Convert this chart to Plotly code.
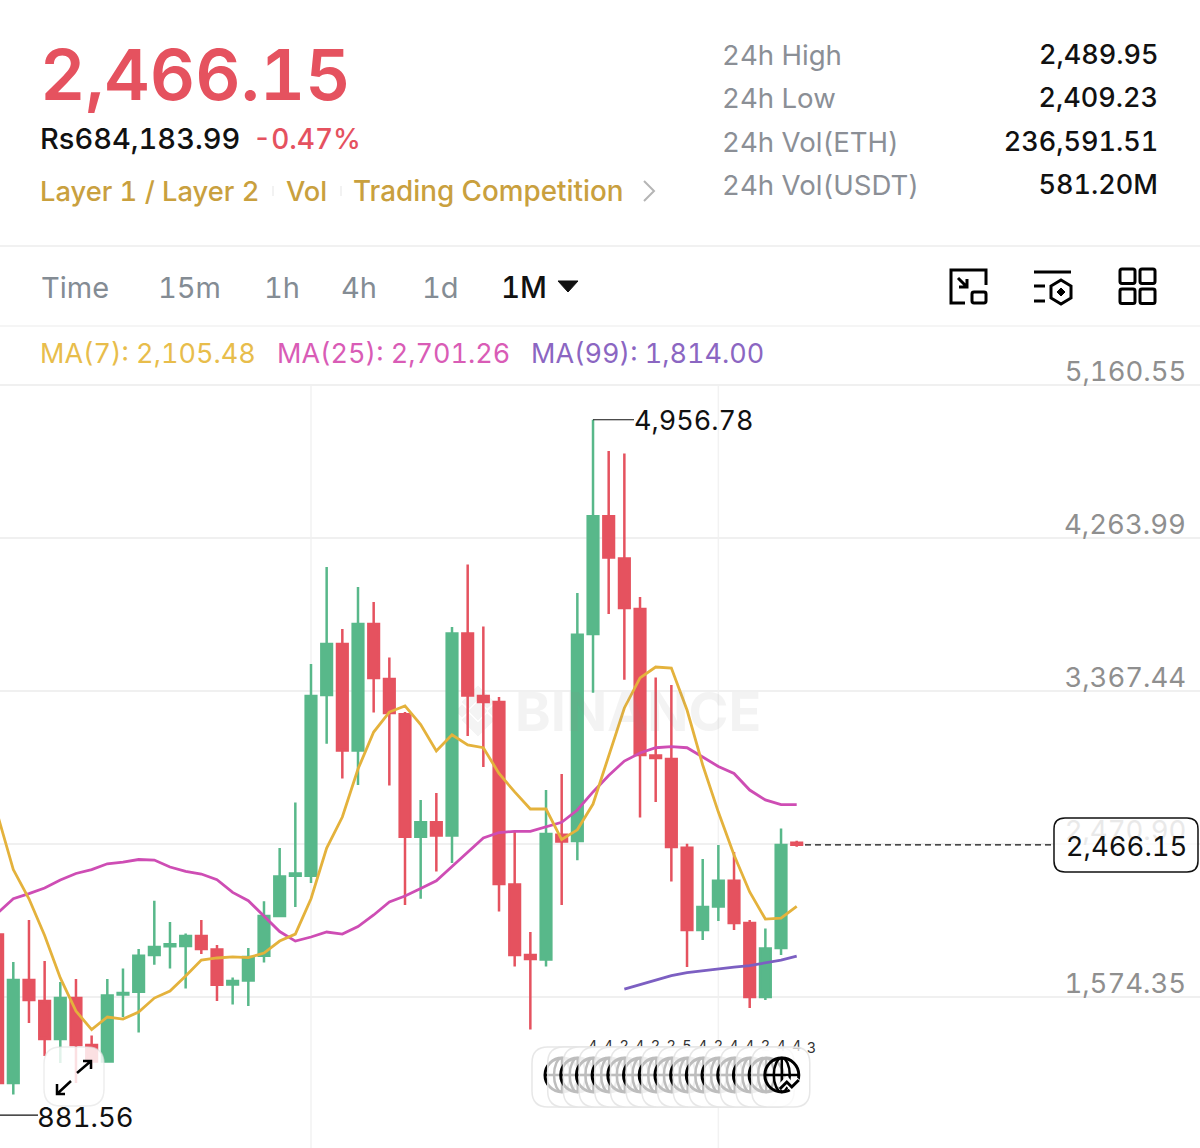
import re
import plotly.graph_objects as go

# ---------- data ----------
candle_index = list(range(52))
opens = [1940,1070,1674,1551,1328,1568,1293,1196,1589,1605,1820,1871,1873,1932,1853,1648,1671,1816,2049,2285,2285,3344,3643,3019,3760,3438,
         3231,2514,2598,2521,3704,3338,3303,2234,1820,1794,2525,2488,3701,4391,4144,3848,2989,2969,2449,1967,2105,2255,2008,1574,1861,2478]
highs = [2050,1779,2026,1785,1662,1680,1349,1680,1741,1856,2139,2014,1946,2026,1879,1689,1861,2135,2447,2714,3526,4094,3731,3977,3889,3564,
         3244,2729,2770,3742,4109,3745,3332,2541,1955,2787,2881,3942,4956.78,4774,4759,3918,3446,3403,2473,2383,2465,2424,2026,1975,2561,2489.95]
lows = [881.56,1003,1422,1229,1188,1070,1158,1194,1457,1366,1764,1741,1624,1826,1551,1530,1522,1776,2043,2102,2242,3059,2855,2817,3241,2814,
        2113,2150,2310,2360,3104,2922,2076,1753,1384,1753,2113,2375,3357,3819,3434,2626,2717,2251,1750,1908,2020,1967,1510,1557,1820,2455]
closes = [1070,1674,1557,1328,1568,1293,1196,1583,1598,1816,1867,1883,1932,1856,1646,1668,1809,2049,2280,2298,3338,3643,3019,3760,3444,3239,
          2514,2598,2521,3704,3341,3303,2236,1820,1797,2529,2485,3697,4391,4149,3854,2992,2975,2453,1967,2102,2255,2008,1574,1858,2465,2466.15]
ma7 = [2641,2321,2150,1935,1686,1492,1383,1457,1445,1486,1568,1609,1697,1791,1803,1809,1805,1832,1902,1943,2150,2447,2629,2910,3127,3244,
       3280,3171,3016,3111,3051,3035,2884,2776,2676,2676,2497,2554,2705,2992,3268,3444,3508,3502,3256,2934,2658,2406,2190,2031,2037,2105.48]
ma25 = [2067,2150,2180,2213,2260,2298,2321,2355,2365,2380,2377,2336,2310,2295,2262,2187,2139,2049,1958,1902,1926,1955,1943,1987,2055,2131,
        2166,2210,2255,2339,2425,2506,2538,2545,2545,2571,2598,2670,2776,2872,2957,3004,3035,3042,3035,2981,2925,2884,2787,2729,2702,2701.26]
ma99_index = list(range(40, 52))
ma99 = [1621,1648,1676,1700,1717,1729,1738,1750,1758,1774,1791,1814.00]
price_ticks = [5160.55, 4263.99, 3367.44, 2470.90, 1574.35, 677.79]
price_tick_labels = ["5,160.55", "4,263.99", "3,367.44", "2,470.90", "1,574.35", "677.79"]
grid_x = [20, 46]
last_price = 2466.15
high_price = 4956.78
low_price = 881.56
stats = [("24h High", "2,489.95"), ("24h Low", "2,409.23"), ("24h Vol(ETH)", "236,591.51"), ("24h Vol(USDT)", "581.20M")]
intervals = ["Time", "15m", "1h", "4h", "1d"]
stack_digits = list("44242254244244")

# ---------- canvas ----------
W, H = 1200, 1148
FONT = "Inter"
GREEN, RED = "#58B88A", "#E5525F"
XR = [0.151, 76.74]
YR = [689.5, 7416.57]
px = lambda x: x / W
py = lambda y: 1 - y / H
dx = lambda x: XR[0] + x / W * (XR[1] - XR[0])
dy = lambda y: YR[1] - y / H * (YR[1] - YR[0])

def path_px(s):
    toks = re.findall(r"[A-Za-z]|-?\d+\.?\d*", s)
    out, n = [], 0
    for t in toks:
        if t.isalpha():
            out.append(t)
        else:
            v = float(t)
            out.append(f"{px(v):.5f}" if n % 2 == 0 else f"{py(v):.5f}")
            n += 1
    return " ".join(out)

shapes, annos = [], []

def P(d, color="#000", w=3, fill=None, layer="above"):
    shapes.append(dict(type="path", xref="paper", yref="paper", path=path_px(d), layer=layer,
                       line=dict(color=color, width=w), fillcolor=fill or "rgba(0,0,0,0)"))

def L(x0, y0, x1, y1, color="#000", w=1, layer="above", dash=None):
    shapes.append(dict(type="line", xref="paper", yref="paper", x0=px(x0), x1=px(x1), y0=py(y0), y1=py(y1),
                       layer=layer, line=dict(color=color, width=w, dash=dash)))

def C(cx, cy, rx, ry, color="#000", w=3):
    shapes.append(dict(type="circle", xref="paper", yref="paper", x0=px(cx-rx), x1=px(cx+rx), y0=py(cy+ry), y1=py(cy-ry),
                       line=dict(color=color, width=w), layer="above"))

def RR(x0, y0, x1, y1, r, color="#000", w=1.5, fill=None):
    P(f"M {x0+r} {y0} L {x1-r} {y0} Q {x1} {y0} {x1} {y0+r} L {x1} {y1-r} Q {x1} {y1} {x1-r} {y1} "
      f"L {x0+r} {y1} Q {x0} {y1} {x0} {y1-r} L {x0} {y0+r} Q {x0} {y0} {x0+r} {y0} Z", color, w, fill)

def T(x, y, text, size, color="#000", anchor="left", weight=400, font=FONT):
    annos.append(dict(xref="paper", yref="paper", x=px(x), y=py(y), text=text, showarrow=False, xanchor=anchor,
                      yanchor="middle", borderpad=0, align=anchor,
                      font=dict(family=font, size=size, color=color, weight=weight)))

# ---------- header ----------
T(39, 74, "2,466.15", 70.3, RED, weight=600)
T(39, 139, "Rs684,183.99", 29, "#111", weight=500)
T(252, 139, "-0.47%", 28, RED, weight=500)
GOLD = "#C9A03E"
T(39, 191, "Layer 1 / Layer 2", 27.3, GOLD, weight=500)
T(285, 191, "Vol", 27.3, GOLD, weight=500)
T(352, 191, "Trading Competition", 27.8, GOLD, weight=500)
L(273, 186, 273, 196, "#eeeeee", 1.5)
L(341, 186, 341, 196, "#eeeeee", 1.5)
P("M 644 181 L 654 191 L 644 201", "#b5b5b5", 2)
for (k, v), y in zip(stats, [55, 98, 142, 185]):
    T(721, y, k, 27.6, "#8b8f96")
    T(1159, y, v, 27, "#111", anchor="right", weight=500)
L(0, 246, W, 246, "#ececec", 1.5)
L(0, 326, W, 326, "#f2f2f2", 1.5)

# ---------- toolbar ----------
for s, x in zip(intervals, [40, 157, 263, 340, 421]):
    T(x, 287, s, 29, "#848c94")
T(500, 287, "1M", 29.5, "#111", weight=500)
P("M 558 281 L 578 281 L 568 292 Z", "#111", 1, "#111")
P("M 965 303 L 951 303 L 951 270 L 986 270 L 986 285", w=3)
RR(972, 292, 986, 303, 2, w=3)
P("M 958 278 L 967 287 M 967 279 L 967 287 L 959 287", w=3)
L(1034, 272, 1071, 272, w=3)
L(1034, 286, 1045, 286, w=3)
L(1034, 301, 1045, 301, w=3)
P("M 1061 280 L 1071 286 L 1071 298 L 1061 304 L 1051 298 L 1051 286 Z", w=3)
P("M 1061 288 L 1065 292 L 1061 296 L 1057 292 Z", "#000", 1, "#000")
for x0 in (1120, 1140):
    for y0 in (269, 289):
        RR(x0, y0, x0 + 15, y0 + 14.5, 2, w=3)

# ---------- MA legend ----------
T(39, 353, "MA(7): 2,105.48", 27, "#E8BD4B")
T(276, 353, "MA(25): 2,701.26", 27, "#D95CB6")
T(530, 353, "MA(99): 1,814.00", 27, "#8B66C2")

# ---------- axis labels ----------
for v, s in zip(price_ticks, price_tick_labels):
    col = "#e9e9e9" if s == "2,470.90" else "#8f8f8f"
    annos.append(dict(xref="paper", yref="y", x=px(1187), y=v, text=s, showarrow=False, xanchor="right", yanchor="bottom",
                      align="right", borderpad=0, yshift=-4, font=dict(family=FONT, size=27.5, color=col)))

# ---------- vertical grid (stops at the top price line) ----------
for g in grid_x:
    shapes.append(dict(type="line", xref="x", yref="y", x0=g, x1=g, y0=YR[0], y1=price_ticks[0], layer="below",
                       line=dict(color="#f2f2f2", width=1.5)))

# ---------- watermark ----------
WM = "#f4f4f4"
for cx, cy, r in [(478, 711, 9), (462, 711, 6), (494, 711, 6)]:
    P(f"M {cx} {cy-r} L {cx+r} {cy} L {cx} {cy+r} L {cx-r} {cy} Z", WM, 1, WM, "below")
P("M 478 686 L 494 702 L 487 708 L 478 699 L 469 708 L 462 702 Z", WM, 1, WM, "below")
P("M 478 736 L 494 720 L 487 714 L 478 723 L 469 714 L 462 720 Z", WM, 1, WM, "below")
T(514, 711, "BINANCE", 54, "rgba(140,140,140,0.10)", weight=700)

# ---------- price markers ----------
shapes.append(dict(type="line", xref="paper", yref="y", x0=px(593), x1=px(634), y0=high_price, y1=high_price,
                   line=dict(color="#111", width=1.2), layer="above"))
T(633, 420, "4,956.78", 27, "#111")
shapes.append(dict(type="line", xref="paper", yref="y", x0=0, x1=px(38), y0=low_price, y1=low_price,
                   line=dict(color="#111", width=1.2), layer="above"))
T(36, 1117, "881.56", 27.5, "#111")
shapes.append(dict(type="line", xref="paper", yref="y", x0=px(805), x1=px(1054), y0=last_price, y1=last_price,
                   line=dict(color="#111", width=1.3, dash="6px,4px"), layer="above"))
RR(1054, 818, 1198, 872, 11, "#111", 1.5, "rgba(255,255,255,0.72)")
T(1126, 846, "2,466.15", 27.5, "#111", anchor="center")

# ---------- expand button ----------
RR(44, 1047, 104, 1106, 17, "rgba(225,225,225,0.6)", 1.5, "rgba(255,255,255,0.82)")
P("M 77 1073 L 91 1061 M 83 1061 L 91 1061 L 91 1069", "#000", 2.5)
P("M 71 1081 L 57 1094 M 65 1094 L 57 1094 L 57 1084", "#000", 2.5)

# ---------- stacked globe buttons ----------
n = 15
for k in range(n):
    x0 = 532 + 15.7 * k
    RR(x0, 1047, x0 + 58, 1107, 16, "rgba(228,228,228,0.9)", 1.5, "rgba(255,255,255,0.74)")
    cx, cy = x0 + 30, 1075
    C(cx, cy, 17, 17, "#000", 3)
    C(cx, cy, 8, 17, "#000", 2.5)
    L(cx - 17, cy, cx + 17, cy, "#000", 2.5)
    L(cx, cy - 17, cx, cy + 17, "#000", 2.5)
    if k == n - 1:
        P(f"M {cx-2} {cy+13} L {cx+5} {cy+6} L {cx+10} {cy+12} L {cx+17} {cy+4}", "#fff", 7)
        P(f"M {cx-2} {cy+14} L {cx+5} {cy+7} L {cx+10} {cy+12} L {cx+17} {cy+5}", "#000", 3)
T(811, 1047, "3", 14.5, "#333", anchor="center")

# ---------- figure ----------
fig = go.Figure()
fig.add_trace(go.Candlestick(
    x=candle_index, open=opens, high=highs, low=lows, close=closes,
    increasing=dict(line=dict(color=GREEN, width=2.5), fillcolor=GREEN),
    decreasing=dict(line=dict(color=RED, width=2.5), fillcolor=RED),
    whiskerwidth=0, hoverinfo="skip"))
fig.add_trace(go.Scatter(x=candle_index, y=ma25, mode="lines", line=dict(color="#CE4DB4", width=2.8), hoverinfo="skip"))
fig.add_trace(go.Scatter(x=candle_index, y=ma7, mode="lines", line=dict(color="#E4B23C", width=2.8), hoverinfo="skip"))
fig.add_trace(go.Scatter(x=ma99_index, y=ma99, mode="lines", line=dict(color="#7C5FC2", width=2.8), hoverinfo="skip"))
# digit tags that sit behind the stacked buttons
fig.add_trace(go.Scatter(
    x=[dx(592.7 + 15.7 * i) for i in range(len(stack_digits))], y=[dy(1047)] * len(stack_digits),
    mode="text", text=stack_digits, textposition="middle center",
    textfont=dict(family=FONT, size=14.5, color="#333"), hoverinfo="skip"))

fig.update_layout(
    width=W, height=H, margin=dict(l=0, r=0, t=0, b=0), paper_bgcolor="#fff", plot_bgcolor="#fff",
    showlegend=False, boxgap=0.32, boxgroupgap=0, shapes=shapes, annotations=annos,
    xaxis=dict(range=XR, rangeslider=dict(visible=False), showticklabels=False, ticks="", zeroline=False,
               showgrid=False, fixedrange=True),
    yaxis=dict(range=YR, showticklabels=False, ticks="", zeroline=False, tickmode="array", tickvals=price_ticks,
               showgrid=True, gridcolor="#f0f0f0", gridwidth=1.5, fixedrange=True),
)
POST = """
var st=document.createElement('style');
st.textContent='.annotation text{font-feature-settings:"tnum" 1}';
document.head.appendChild(st);
document.body.style.margin='0';document.documentElement.style.overflow='hidden';
Plotly.redraw(document.getElementById('{plot_id}'));
"""
fig.write_html("out.html", config=dict(displayModeBar=False), post_script=POST)
